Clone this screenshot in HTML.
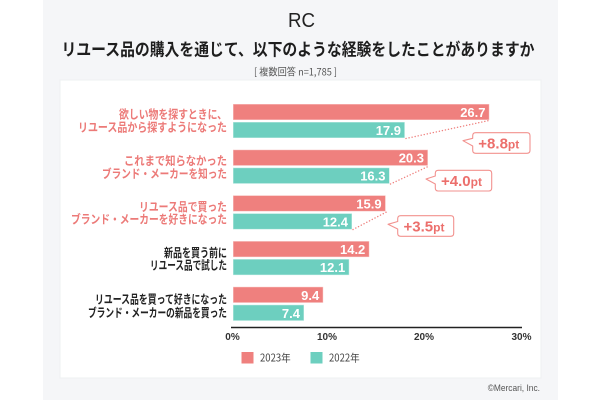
<!DOCTYPE html>
<html><head><meta charset="utf-8"><style>
html,body{margin:0;padding:0;background:#fff;}
svg{display:block;}
text{font-family:"Liberation Sans","Noto Sans CJK JP",sans-serif;}
.jp{font-family:"Noto Sans CJK JP","Liberation Sans",sans-serif;}
</style></head><body>
<svg width="600" height="400" viewBox="0 0 600 400" xmlns="http://www.w3.org/2000/svg">
<rect x="0" y="0" width="600" height="400" fill="#ffffff"/>
<rect x="43" y="0" width="515" height="400" fill="#f5f6f8"/>
<rect x="60" y="80" width="481" height="298" fill="#ffffff" stroke="#eef0f2" stroke-width="1"/>

<!-- logo -->
<text x="301.5" y="21" text-anchor="middle" dominant-baseline="central" font-size="20" font-weight="normal" fill="#222" textLength="27" lengthAdjust="spacingAndGlyphs">RC</text>
<!-- title -->
<text class="jp" x="298" y="48" text-anchor="middle" dominant-baseline="central" font-size="17" font-weight="bold" fill="#1e1e1e" textLength="473" lengthAdjust="spacingAndGlyphs">リユース品の購入を通じて、以下のような経験をしたことがありますか</text>
<text class="jp" x="295.5" y="71" text-anchor="middle" dominant-baseline="central" font-size="10" fill="#555" textLength="83" lengthAdjust="spacingAndGlyphs">[ 複数回答 n=1,785 ]</text>

<!-- category labels -->
<g class="jp" font-weight="bold" font-size="12" text-anchor="end" dominant-baseline="central">
<text class="jp" x="227" y="114" fill="#ec7a78" textLength="108" lengthAdjust="spacingAndGlyphs">欲しい物を探すときに、</text>
<text class="jp" x="227" y="127" fill="#ec7a78" textLength="149" lengthAdjust="spacingAndGlyphs">リユース品から探すようになった</text>
<text class="jp" x="227" y="160.5" fill="#ec7a78" textLength="103" lengthAdjust="spacingAndGlyphs">これまで知らなかった</text>
<text class="jp" x="227" y="173.3" fill="#ec7a78" textLength="125" lengthAdjust="spacingAndGlyphs">ブランド・メーカーを知った</text>
<text class="jp" x="227" y="206.5" fill="#ec7a78" textLength="88" lengthAdjust="spacingAndGlyphs">リユース品で買った</text>
<text class="jp" x="227" y="219" fill="#ec7a78" textLength="156" lengthAdjust="spacingAndGlyphs">ブランド・メーカーを好きになった</text>
<text class="jp" x="227" y="252.3" fill="#222" textLength="63" lengthAdjust="spacingAndGlyphs">新品を買う前に</text>
<text class="jp" x="227" y="265" fill="#222" textLength="77" lengthAdjust="spacingAndGlyphs">リユース品で試した</text>
<text class="jp" x="227" y="299" fill="#222" textLength="132" lengthAdjust="spacingAndGlyphs">リユース品を買って好きになった</text>
<text class="jp" x="227" y="312.3" fill="#222" textLength="139" lengthAdjust="spacingAndGlyphs">ブランド・メーカーの新品を買った</text>
</g>

<!-- bars -->
<g stroke="rgba(255,255,255,0.55)" stroke-width="1">
<rect x="233" y="104" width="256.3" height="16" fill="#ef807e"/>
<rect x="233" y="122" width="171.8" height="16" fill="#6dcfbf"/>
<rect x="233" y="149.7" width="194.9" height="16" fill="#ef807e"/>
<rect x="233" y="167.7" width="156.5" height="16" fill="#6dcfbf"/>
<rect x="233" y="195.4" width="152.6" height="16" fill="#ef807e"/>
<rect x="233" y="213.4" width="119" height="16" fill="#6dcfbf"/>
<rect x="233" y="241.1" width="136.3" height="16" fill="#ef807e"/>
<rect x="233" y="259.1" width="116.2" height="16" fill="#6dcfbf"/>
<rect x="233" y="286.8" width="90.2" height="16" fill="#ef807e"/>
<rect x="233" y="304.8" width="71" height="16" fill="#6dcfbf"/>
</g>

<!-- values -->
<g font-weight="bold" font-size="13" fill="#fff" text-anchor="end" dominant-baseline="central">
<text x="485.5" y="112.5">26.7</text>
<text x="401" y="130.5">17.9</text>
<text x="424" y="158.2">20.3</text>
<text x="385.5" y="176.2">16.3</text>
<text x="381.6" y="203.9">15.9</text>
<text x="348" y="221.9">12.4</text>
<text x="365.3" y="249.6">14.2</text>
<text x="345.2" y="267.6">12.1</text>
<text x="319.2" y="295.3">9.4</text>
<text x="300" y="313.3">7.4</text>
</g>

<!-- dotted lines -->
<g stroke="#ef807e" stroke-width="1.4" stroke-dasharray="0.1 3" stroke-linecap="round" fill="none">
<line x1="406" y1="138.5" x2="489" y2="120.5"/>
<line x1="390.5" y1="184" x2="428.5" y2="166.3"/>
<line x1="353" y1="229.5" x2="386.5" y2="212"/>
</g>

<!-- callouts -->
<g fill="#fff" stroke="#f2928f" stroke-width="1.1" stroke-linejoin="round">
<path d="M475.7,132.7 H527 Q530,132.7 530,135.7 V150.3 Q530,153.3 527,153.3 H475.7 Q472.7,153.3 472.7,150.3 V146 L463,140.7 L472.7,138.3 V135.7 Q472.7,132.7 475.7,132.7 Z"/>
<path d="M438.3,170.3 H488.7 Q491.7,170.3 491.7,173.3 V188 Q491.7,191 488.7,191 H438.3 Q435.3,191 435.3,188 V184 L426,179 L435.3,176 V173.3 Q435.3,170.3 438.3,170.3 Z"/>
<path d="M400.7,215.7 H450.7 Q453.7,215.7 453.7,218.7 V233.3 Q453.7,236.3 450.7,236.3 H400.7 Q397.7,236.3 397.7,233.3 V229 L388,224.3 L397.7,221.5 V218.7 Q397.7,215.7 400.7,215.7 Z"/>
</g>
<g font-weight="bold" fill="#ec6f6c">
<text x="478.3" y="148.6"><tspan font-size="15">+8.8</tspan><tspan font-size="12">pt</tspan></text>
<text x="441" y="186"><tspan font-size="15">+4.0</tspan><tspan font-size="12">pt</tspan></text>
<text x="403.5" y="231.3"><tspan font-size="15">+3.5</tspan><tspan font-size="12">pt</tspan></text>
</g>

<!-- axis -->
<line x1="231" y1="327.5" x2="522" y2="327.5" stroke="#222" stroke-width="1.5"/>
<g font-weight="bold" font-size="10" fill="#333" text-anchor="middle" dominant-baseline="central">
<text x="232.5" y="337.5">0%</text>
<text x="327" y="337.5">10%</text>
<text x="424" y="337.5">20%</text>
<text x="521.5" y="337.5">30%</text>
</g>

<!-- legend -->
<rect x="241.5" y="352" width="12" height="11.5" fill="#ef807e"/>
<text class="jp" x="260" y="358" dominant-baseline="central" font-size="10.5" fill="#444" textLength="30.7" lengthAdjust="spacingAndGlyphs">2023年</text>
<rect x="310.5" y="352" width="12" height="11.5" fill="#6dcfbf"/>
<text class="jp" x="329" y="358" dominant-baseline="central" font-size="10.5" fill="#444" textLength="30.7" lengthAdjust="spacingAndGlyphs">2022年</text>

<text x="540" y="388.7" text-anchor="end" dominant-baseline="central" font-size="9.5" fill="#555" textLength="52.3" lengthAdjust="spacingAndGlyphs">©Mercari, Inc.</text>
</svg>
</body></html>
